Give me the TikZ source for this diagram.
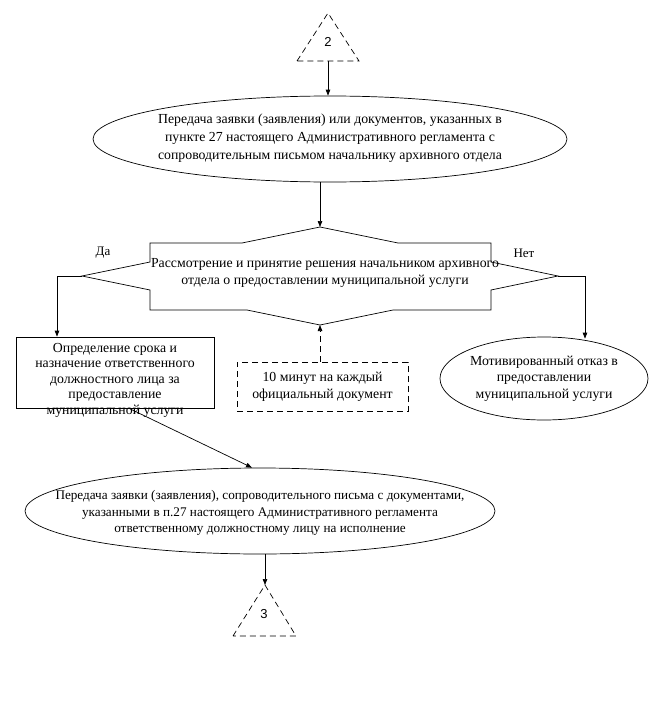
\documentclass[tikz,border=0pt]{standalone}
\usepackage{fontspec}
\setmainfont{Liberation Serif}
\newfontfamily\numfont{Liberation Sans}
\usetikzlibrary{shapes.geometric,arrows.meta,calc}
\begin{document}
\begin{tikzpicture}[x=1pt,y=-1pt, line width=0.7pt,
  arr/.style={-{Triangle[length=6pt,width=4.5pt]}},
  txt/.style={font=\fontsize{13.8}{17}\selectfont, align=center, inner sep=0pt},
  oval/.style={ellipse, draw, inner sep=0pt},
  dsh/.style={dash pattern=on 6pt off 4pt}]
\useasboundingbox (0,0) rectangle (665,709);

% top connector triangle
\coordinate (t2a) at (328,13);
\coordinate (t2l) at (297,61);
\coordinate (t2r) at (359,61);
\coordinate (t2b) at (328,61);
\draw[dsh] (t2l) -- (t2a) -- (t2r) -- cycle;
\node[txt, font=\numfont\fontsize{13}{15}\selectfont] (n2) at (328,42) {2};

% first ellipse
\node[oval, minimum width=474pt, minimum height=86pt] (e1) at (330,139) {};
\node[txt, font=\fontsize{13.8}{18}\selectfont] (e1t) at (330,138)
  {Передача заявки (заявления) или документов, указанных в\\пункте 27 настоящего Административного регламента с\\сопроводительным письмом начальнику архивного отдела};
\draw[arr] (t2b) -- (t2b |- e1.north);

% decision shape
\coordinate (dL) at (82,276);
\coordinate (dR) at (558,276);
\coordinate (dT) at (320,227);
\coordinate (dB) at (320,325);
\draw (dL) -- (150,262) -- (150,243) -- (242,243) -- (dT) -- (398,243) -- (491,243)
  -- (491,262) -- (dR) -- (491,290) -- (491,310) -- (393,310) -- (dB) -- (247,310)
  -- (150,310) -- (150,290) -- cycle;
\node[txt] (dec) at (325,273)
  {Рассмотрение и принятие решения начальником архивного\\отдела о предоставлении муниципальной услуги};
\draw[arr] (dT |- e1.south) -- (dT);

\node[txt, font=\fontsize{13}{15}\selectfont] (da) at (103,253) {Да};
\node[txt, font=\fontsize{13}{15}\selectfont] (net) at (524,253) {Нет};

% left branch box
\node[draw, minimum width=198pt, minimum height=71pt, inner sep=0pt] (box) at (115,372.5) {};
\node[txt, font=\fontsize{13.8}{15.5}\selectfont] (boxt) at (115,380)
  {Определение срока и\\назначение ответственного\\должностного лица за\\предоставление\\муниципальной услуги};
\coordinate (lc) at (57,276);
\draw[arr] (dL) -- (lc) -- (lc |- box.north);

% dashed time box
\node[draw, dsh, txt, minimum width=171pt, minimum height=49pt] (dbx) at (322.5,386.5)
  {10 минут на каждый\\официальный документ};
\draw[arr, dsh] (dB |- dbx.north) -- (dB);

% rejection ellipse
\node[oval, minimum width=208pt, minimum height=83pt] (rej) at (544,378.5) {};
\node[txt, font=\fontsize{13.8}{16.5}\selectfont] (rejt) at (544,378.5)
  {Мотивированный отказ в\\предоставлении\\муниципальной услуги};
\coordinate (rc) at (585,276);
\coordinate (rend) at ($(rc |- rej.north)+(0,2)$);
\draw[arr] (dR) -- (rc) -- (rend);

% bottom ellipse
\node[oval, minimum width=470pt, minimum height=86pt] (e2) at (260,511) {};
\node[txt, font=\fontsize{13.2}{16.5}\selectfont] (e2t) at (260,513)
  {Передача заявки (заявления), сопроводительного письма с документами,\\указанными в п.27 настоящего Административного регламента\\ответственному должностному лицу на исполнение};
\draw[arr] ([xshift=14pt]box.south) -- ([xshift=-8pt]e2.north);

% bottom connector triangle
\coordinate (t3a) at (265,585);
\coordinate (t3l) at (233,636);
\coordinate (t3r) at (296,636);
\draw[dsh] (t3l) -- (t3a) -- (t3r) -- cycle;
\node[txt, font=\numfont\fontsize{13}{15}\selectfont] (n3) at (264,614) {3};
\draw[arr] (t3a |- e2.south) -- (t3a);
\end{tikzpicture}
\end{document}
